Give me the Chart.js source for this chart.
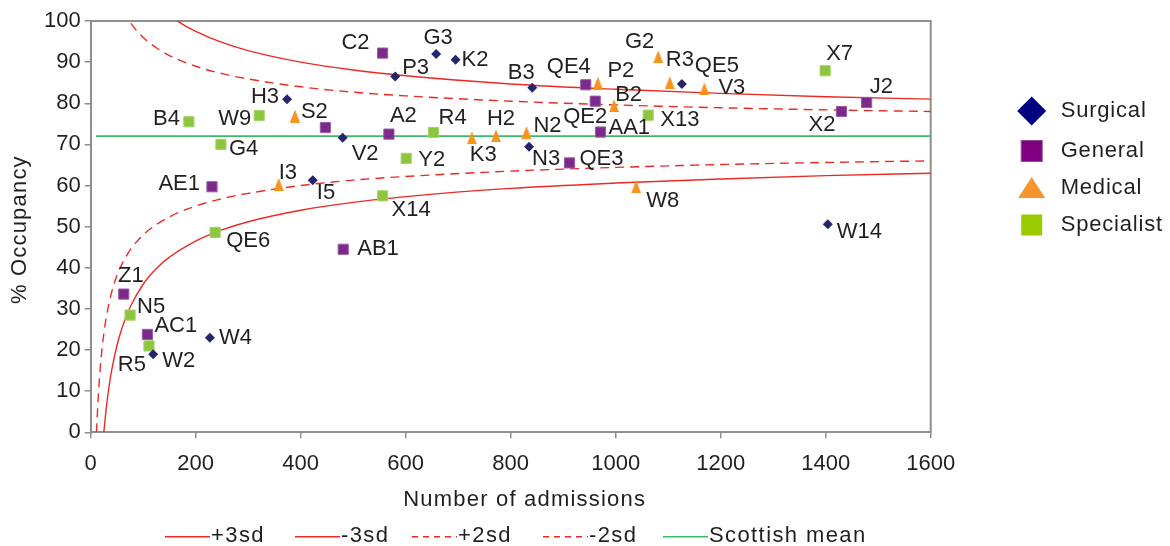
<!DOCTYPE html>
<html>
<head>
<meta charset="utf-8">
<title>Bed occupancy by number of admissions</title>
<style>
  html, body { margin: 0; padding: 0; background: #ffffff; }
  #wrap { width: 1170px; height: 546px; position: relative; }
</style>
<script src="https://cdn.jsdelivr.net/npm/chart.js@4/dist/chart.umd.min.js"></script>
</head>
<body>
<div id="wrap"><canvas id="chart" width="1170" height="546"></canvas></div>
<script>
// ---- Ward data: admissions (x) and % occupancy (y) ----
const surgicalNames = ['H3', 'P3', 'G3', 'K2', 'V2', 'I5', 'B3', 'QE5', 'N3', 'W14', 'W2', 'W4'];
const surgicalAdmissions = [374, 580, 658, 695, 480, 423, 841, 1126, 835, 1404, 119, 227];
const surgicalOccupancy = [81.0, 86.5, 92.0, 90.6, 71.6, 61.3, 83.8, 84.7, 69.4, 50.6, 19.0, 23.0];

const generalNames = ['C2', '', 'A2', 'AE1', 'QE4', 'QE2', 'AA1', 'QE3', 'X2', 'J2', 'AB1', 'Z1', 'AC1'];
const generalAdmissions = [556, 447, 568, 231, 943, 961, 971, 912, 1430, 1478, 481, 63, 108];
const generalOccupancy = [92.2, 74.1, 72.5, 59.7, 84.5, 80.5, 73.0, 65.5, 78.0, 80.2, 44.5, 33.6, 23.8];

const medicalNames = ['S2', 'I3', 'K3', 'P2', 'B2', 'G2', 'R3', 'V3', 'H2', 'N2', 'W8'];
const medicalAdmissions = [389, 358, 726, 966, 997, 1081, 1103, 1169, 772, 830, 1039];
const medicalOccupancy = [76.9, 60.3, 71.6, 84.9, 79.4, 91.3, 85.0, 83.5, 72.1, 72.9, 59.7];

const specialistNames = ['B4', 'W9', 'G4', 'R4', 'Y2', 'X14', 'X13', 'X7', 'QE6', 'N5', 'R5'];
const specialistAdmissions = [187, 321, 248, 653, 601, 556, 1062, 1399, 237, 75, 111];
const specialistOccupancy = [75.5, 77.0, 70.0, 72.9, 66.6, 57.5, 77.1, 87.9, 48.6, 28.5, 21.0];

// ---- Funnel control limits around the Scottish mean ----
const scottishMean = 72;
const meanAdmissions = [10, 1600];

const plus3Admissions = [100, 125, 150, 175, 200, 250, 300, 400, 500, 600, 800, 1000, 1200, 1400, 1600];
const plus3Values = [108.0, 104.2, 101.4, 99.2, 97.5, 94.8, 92.8, 90.0, 88.1, 86.7, 84.7, 83.4, 82.4, 81.6, 81.0];

const minus3Admissions = [25, 30, 35, 40, 50, 60, 75, 100, 125, 150, 200, 250, 300, 400, 500, 600, 800, 1000, 1200, 1400, 1600];
const minus3Values = [0.0, 6.3, 11.2, 15.1, 21.1, 25.5, 30.4, 36.0, 39.8, 42.6, 46.5, 49.2, 51.2, 54.0, 55.9, 57.3, 59.3, 60.6, 61.6, 62.4, 63.0];

const plus2Admissions = [50, 60, 75, 100, 125, 150, 200, 250, 300, 400, 500, 600, 800, 1000, 1200, 1400, 1600];
const plus2Values = [105.9, 103.0, 99.7, 96.0, 93.5, 91.6, 89.0, 87.2, 85.9, 84.0, 82.7, 81.8, 80.5, 79.6, 78.9, 78.4, 78.0];

const minus2Admissions = [11, 12, 15, 20, 25, 30, 40, 50, 60, 75, 100, 125, 150, 200, 250, 300, 400, 500, 600, 800, 1000, 1200, 1400, 1600];
const minus2Values = [0.0, 2.7, 10.0, 18.3, 24.0, 28.2, 34.1, 38.1, 41.0, 44.3, 48.0, 50.5, 52.4, 55.0, 56.8, 58.1, 60.0, 61.3, 62.2, 63.5, 64.4, 65.1, 65.6, 66.0];

// ---- Axis ticks ----
const xTickStep = 200, xMin = 0, xMax = 1600;
const yTickStep = 10, yMin = 0, yMax = 100;

// ---- Styling ----
const FONT = "'Liberation Sans', Arial, Helvetica, sans-serif";
const TEXT = '#231f20';
const AXIS = '#8f8f8f';
const RED = '#ec2a24';
const GREEN = '#3fba6c';
const COL = {
  surgical: '#24246f', surgicalKey: '#000080',
  general: '#7b2a8b', generalEdge: '#9b5ca8', generalKey: '#800080',
  medical: '#f7941e', medicalKey: '#f7941e',
  specialist: '#8cc63e', specialistKey: '#99cc00'
};

// Label placement around each marker: [dx, dy, text alignment]
const labelPlacement = {
  C2: [-13, -10, 'right'], P3: [7, -9, 'left'], G3: [2, -16, 'center'], K2: [6, 0, 'left'],
  H3: [-8, -2, 'right'], B4: [-9, -3, 'right'], W9: [-8, 3, 'right'], S2: [6, -4, 'left'],
  A2: [1, -18, 'left'], R4: [5, -15, 'left'], V2: [9, 16, 'left'], G4: [8, 5, 'left'],
  Y2: [12, 2, 'left'], AE1: [-12, -3, 'right'], I3: [0, -11, 'left'], I5: [4, 13, 'left'],
  X14: [9, 14, 'left'], K3: [-2, 17, 'left'], B3: [-11, -15, 'center'], QE4: [-17, -18, 'center'],
  P2: [23, -12, 'center'], QE2: [-10, 16, 'center'], AA1: [8, -4, 'left'], B2: [1, -11, 'left'],
  X13: [12, 5, 'left'], G2: [-4, -15, 'right'], R3: [-4, -23, 'left'], QE5: [13, -18, 'left'],
  V3: [14, -1, 'left'], X7: [1, -17, 'left'], X2: [-6, 13, 'right'], J2: [3, -15, 'left'],
  H2: [5, -17, 'center'], N2: [7, -7, 'left'], N3: [3, 12, 'left'], QE3: [10, -4, 'left'],
  W8: [10, 14, 'left'], W14: [9, 8, 'left'], QE6: [11, 9, 'left'], AB1: [14, 0, 'left'],
  Z1: [7, -18, 'center'], N5: [7, -8, 'left'], AC1: [7, -8, 'left'], R5: [-3, 19, 'right'],
  W2: [9, 7, 'left'], W4: [9, 0, 'left']
};

function toPoints(xs, ys) { return xs.map((x, i) => ({ x: x, y: ys[i] })); }

// Upright triangle marker, slightly taller than wide
function triangleMarker(w, h, color) {
  const c = document.createElement('canvas');
  c.width = w; c.height = h;
  const g = c.getContext('2d');
  g.fillStyle = color;
  g.beginPath();
  g.moveTo(w / 2, 0);
  g.lineTo(w, h);
  g.lineTo(0, h);
  g.closePath();
  g.fill();
  return c;
}

function markerSet(label, names, xs, ys, style) {
  return Object.assign({
    label: label,
    data: toPoints(xs, ys),
    names: names,
    showLine: false,
    order: 0
  }, style);
}

function limitLine(label, xs, ys, color, dash) {
  return {
    label: label,
    data: toPoints(xs, ys),
    showLine: true,
    borderColor: color,
    backgroundColor: color,
    borderWidth: 1.4,
    borderDash: dash,
    pointRadius: 0,
    pointHoverRadius: 0,
    cubicInterpolationMode: 'monotone',
    fill: false,
    order: 10
  };
}

const datasets = [
  limitLine('+3sd', plus3Admissions, plus3Values, RED, []),
  limitLine('-3sd', minus3Admissions, minus3Values, RED, []),
  limitLine('+2sd', plus2Admissions, plus2Values, RED, [9, 6]),
  limitLine('-2sd', minus2Admissions, minus2Values, RED, [9, 6]),
  Object.assign(limitLine('Scottish mean', meanAdmissions, meanAdmissions.map(() => scottishMean), GREEN, []), { borderWidth: 1.8 }),
  markerSet('Surgical', surgicalNames, surgicalAdmissions, surgicalOccupancy, {
    pointStyle: 'rectRot', pointRadius: 5, backgroundColor: COL.surgical, borderColor: COL.surgical, borderWidth: 0
  }),
  markerSet('General', generalNames, generalAdmissions, generalOccupancy, {
    pointStyle: 'rect', pointRadius: 7.2, backgroundColor: COL.general, borderColor: COL.generalEdge, borderWidth: 1
  }),
  markerSet('Medical', medicalNames, medicalAdmissions, medicalOccupancy, {
    pointStyle: triangleMarker(10, 13, COL.medical), pointRadius: 6
  }),
  markerSet('Specialist', specialistNames, specialistAdmissions, specialistOccupancy, {
    pointStyle: 'rect', pointRadius: 7.2, backgroundColor: COL.specialist, borderColor: '#a6d46a', borderWidth: 1
  })
];

// Frame, point labels, axis titles and both keys
const decorations = {
  id: 'decorations',
  beforeDatasetsDraw(chart) {
    const { ctx, chartArea: a } = chart;
    ctx.save();
    ctx.strokeStyle = AXIS;
    ctx.lineWidth = 2;
    ctx.beginPath();
    ctx.moveTo(a.left, a.top);
    ctx.lineTo(a.right, a.top);
    ctx.lineTo(a.right, a.bottom);
    ctx.stroke();
    ctx.restore();
  },
  afterDatasetsDraw(chart) {
    const ctx = chart.ctx;
    ctx.save();
    ctx.font = '22px ' + FONT;
    ctx.fillStyle = TEXT;
    ctx.textBaseline = 'middle';
    chart.data.datasets.forEach((ds, di) => {
      if (!ds.names) return;
      const meta = chart.getDatasetMeta(di);
      meta.data.forEach((el, i) => {
        const name = ds.names[i];
        if (!name || !labelPlacement[name]) return;
        const [dx, dy, align] = labelPlacement[name];
        ctx.textAlign = align;
        ctx.fillText(name, el.x + dx, el.y + dy);
      });
    });
    ctx.restore();
  },
  afterDraw(chart) {
    const { ctx, chartArea: a } = chart;
    ctx.save();
    ctx.fillStyle = TEXT;
    ctx.font = '22px ' + FONT;
    if ('letterSpacing' in ctx) ctx.letterSpacing = '1.2px';
    ctx.textBaseline = 'middle';

    // Axis titles
    ctx.textAlign = 'center';
    ctx.fillText('Number of admissions', (a.left + a.right) / 2 + 14, a.bottom + 68);
    ctx.save();
    ctx.translate(25.5, (a.top + a.bottom) / 2 + 3);
    ctx.rotate(-Math.PI / 2);
    ctx.textBaseline = 'alphabetic';
    ctx.fillText('% Occupancy', 0, 0);
    ctx.restore();

    // Key for the reference lines, below the axis title
    const lineKeys = [
      { ds: 0, x: 165 }, { ds: 1, x: 295 }, { ds: 2, x: 412 }, { ds: 3, x: 543 }, { ds: 4, x: 663 }
    ];
    const ky = a.bottom + 104;
    if ('letterSpacing' in ctx) ctx.letterSpacing = '1.4px';
    ctx.textAlign = 'left';
    lineKeys.forEach(k => {
      const ds = chart.data.datasets[k.ds];
      ctx.save();
      ctx.strokeStyle = ds.borderColor;
      ctx.lineWidth = 1.4;
      ctx.setLineDash(ds.borderDash && ds.borderDash.length ? [6, 5] : []);
      ctx.beginPath();
      ctx.moveTo(k.x, ky + 0.5);
      ctx.lineTo(k.x + 45, ky + 0.5);
      ctx.stroke();
      ctx.restore();
      ctx.fillText(ds.label, k.x + 46, ky);
    });

    // Key for the ward types, right of the plot
    const kx = a.right + 101;
    const tx = a.right + 130;
    const rows = [
      { label: 'Surgical', y: 111, draw: (x, y) => { ctx.fillStyle = COL.surgicalKey; ctx.beginPath(); ctx.moveTo(x, y - 14.5); ctx.lineTo(x + 14.5, y); ctx.lineTo(x, y + 14.5); ctx.lineTo(x - 14.5, y); ctx.closePath(); ctx.fill(); } },
      { label: 'General', y: 151, draw: (x, y) => { ctx.fillStyle = COL.generalKey; ctx.fillRect(x - 10.5, y - 10.5, 21, 21); ctx.strokeStyle = '#8f4a99'; ctx.lineWidth = 1; ctx.strokeRect(x - 10.5, y - 10.5, 21, 21); } },
      { label: 'Medical', y: 188, draw: (x, y) => { ctx.fillStyle = '#f7932c'; ctx.beginPath(); ctx.moveTo(x, y - 11); ctx.lineTo(x + 13.5, y + 10); ctx.lineTo(x - 13.5, y + 10); ctx.closePath(); ctx.fill(); } },
      { label: 'Specialist', y: 225, draw: (x, y) => { ctx.fillStyle = COL.specialistKey; ctx.fillRect(x - 10.5, y - 10.5, 21, 21); } }
    ];
    if ('letterSpacing' in ctx) ctx.letterSpacing = '0.8px';
    rows.forEach(r => {
      ctx.save();
      r.draw(kx, r.y);
      ctx.restore();
      ctx.fillStyle = TEXT;
      ctx.fillText(r.label, tx, r.y);
    });
    ctx.restore();
  }
};

new Chart(document.getElementById('chart'), {
  type: 'scatter',
  data: { datasets: datasets },
  plugins: [decorations],
  options: {
    responsive: false,
    devicePixelRatio: 1,
    animation: false,
    events: [],
    layout: { padding: { left: 0, top: 21, right: 239.3, bottom: 0 } },
    plugins: {
      legend: { display: false },
      tooltip: { enabled: false },
      title: { display: false }
    },
    scales: {
      x: {
        type: 'linear',
        min: xMin, max: xMax,
        afterFit: s => { s.height = 113.7; },
        ticks: { stepSize: xTickStep, font: { family: FONT, size: 22 }, color: TEXT, padding: 12, maxRotation: 0, callback: v => String(v) },
        grid: { drawOnChartArea: false, drawTicks: true, tickLength: 6, color: AXIS, lineWidth: 1.5 },
        border: { display: true, color: AXIS, width: 2 }
      },
      y: {
        type: 'linear',
        min: yMin, max: yMax,
        afterFit: s => { s.width = 90.7; },
        ticks: { stepSize: yTickStep, font: { family: FONT, size: 22 }, color: TEXT, padding: 4, callback: v => String(v) },
        grid: { drawOnChartArea: false, drawTicks: true, tickLength: 6, color: AXIS, lineWidth: 1.5 },
        border: { display: true, color: AXIS, width: 2 }
      }
    }
  }
});
</script>
</body>
</html>
